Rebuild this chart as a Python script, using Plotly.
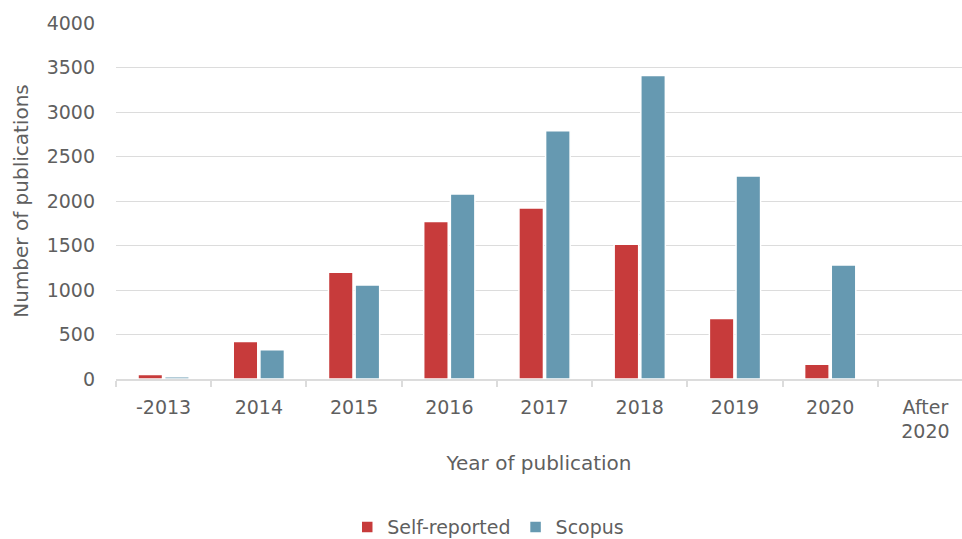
import plotly.graph_objects as go

# Publications per year, self-reported vs. Scopus
years = ["-2013", "2014", "2015", "2016", "2017", "2018", "2019", "2020", "After<br>2020"]
self_reported = [50, 420, 1200, 1770, 1920, 1515, 680, 165, 0]
scopus = [25, 330, 1055, 2080, 2790, 3410, 2280, 1280, 0]
y_ticks = [0, 500, 1000, 1500, 2000, 2500, 3000, 3500, 4000]

RED = "#C73B3B"
BLUE = "#6699B1"
TEXT = "#5F5F5F"
GRID = "#DCDCDC"
FONT = "DejaVu Sans"

fig = go.Figure()
fig.add_trace(go.Bar(
    x=years, y=self_reported, name="Self-reported",
    marker=dict(color=RED, line=dict(color="white", width=1.5)),
))
fig.add_trace(go.Bar(
    x=years, y=scopus, name="Scopus",
    marker=dict(color=BLUE, line=dict(color="white", width=1.5)),
))

fig.update_layout(
    width=962, height=539,
    margin=dict(l=116, r=0, t=23, b=160, autoexpand=False),
    paper_bgcolor="white", plot_bgcolor="white",
    font=dict(family=FONT, color=TEXT, size=18),
    barmode="group", bargap=0.44, bargroupgap=0.08,
    showlegend=True,
    legend=dict(
        orientation="h", x=0.44, xanchor="center",
        yref="container", y=0.022, yanchor="middle",
        font=dict(size=19, color=TEXT), traceorder="normal",
        itemwidth=30, tracegroupgap=0,
    ),
    xaxis=dict(
        type="category", range=[-0.5, 8.384], automargin=False,
        tickson="boundaries", ticks="outside", ticklen=6, tickcolor=GRID, tickwidth=1.5,
        showline=True, linecolor=GRID, linewidth=1.5,
        tickfont=dict(size=19, color=TEXT),
        ticklabelstandoff=10,
        title=dict(text="Year of publication", font=dict(size=20, color=TEXT), standoff=15),
    ),
    yaxis=dict(
        range=[0, 4000], tickvals=y_ticks, automargin=False,
        showgrid=True, gridcolor=GRID, gridwidth=1.3,
        zeroline=False, showline=False,
        tickfont=dict(size=19, color=TEXT),
        ticklabelstandoff=20,
        title=dict(text="Number of publications", font=dict(size=20, color=TEXT), standoff=12),
    ),
)

fig.write_html("out.html")
